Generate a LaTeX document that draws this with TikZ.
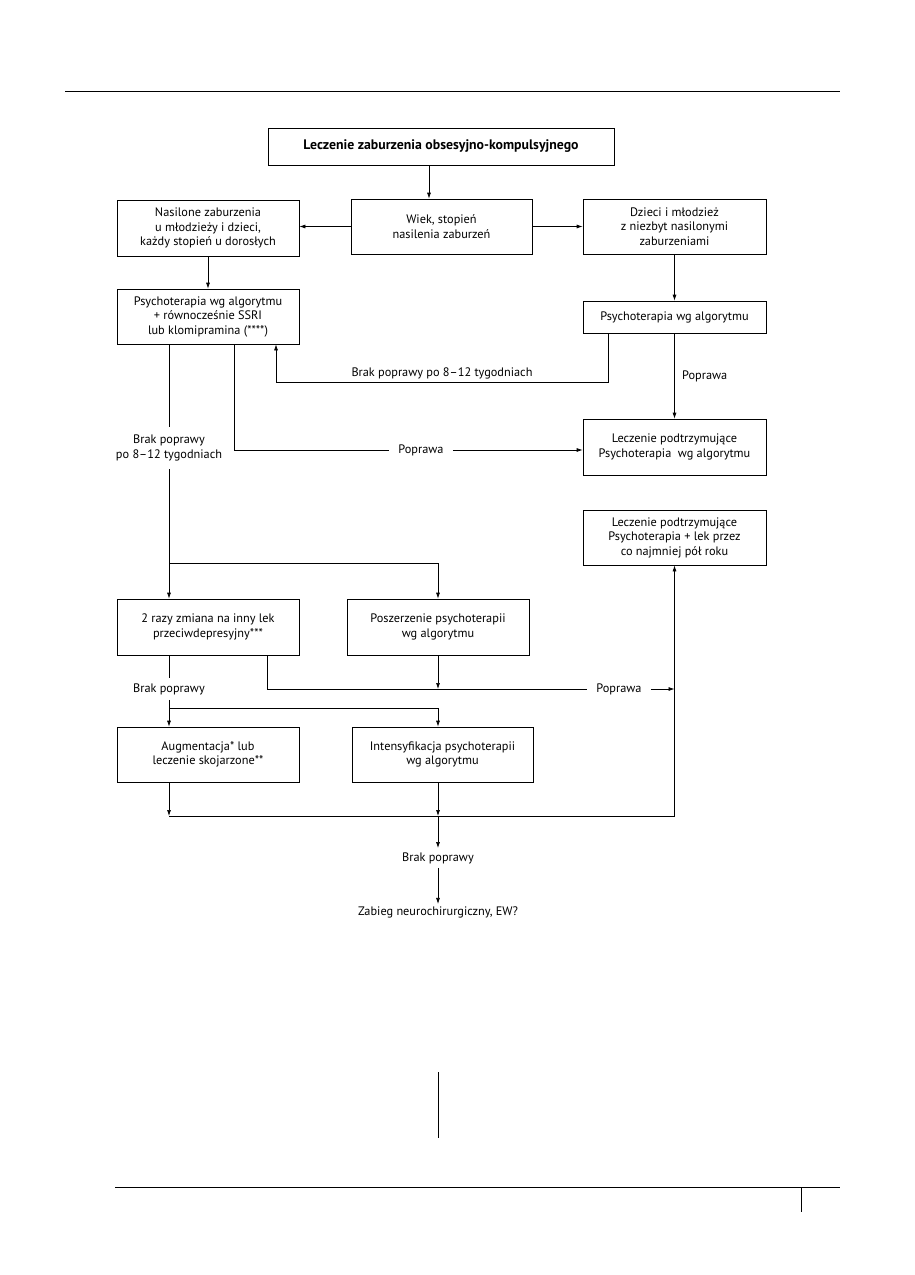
\documentclass[tikz,border=0pt]{standalone}
\usepackage{fontspec}
\setmainfont{PT Sans}
\usetikzlibrary{arrows.meta}
\begin{document}
\begin{tikzpicture}[x=1pt,y=-1pt,
  every path/.style={line width=.7pt},
  box/.style={draw,align=center,minimum width=182,minimum height=55,inner sep=2pt},
  txt/.style={align=center,inner sep=3pt},
  arr/.style={-{Latex[length=6pt,width=4pt]}},
  font=\fontsize{12.3}{14.5}\selectfont]
\useasboundingbox (0,0) rectangle (914,1275);
\draw (65,91) -- (840,91);
\draw (115,1187) -- (840,1187);
\draw (801,1187) -- (801,1212);
\draw (438,1072) -- (438,1138);

\node[box,minimum width=346,minimum height=37,font=\fontsize{13.8}{16}\selectfont\bfseries] (title) at (441,146.5) {Leczenie zaburzenia obsesyjno-kompulsyjnego};
\node[box,minimum width=181] (wiek) at (441.5,226.5) {Wiek, stopień\\nasilenia zaburzeń};
\node[box,minimum height=56] (nasil) at (208,228) {Nasilone zaburzenia\\u młodzieży i dzieci,\\każdy stopień u dorosłych};
\node[box,minimum width=183] (dzieci) at (674.5,226.5) {Dzieci i młodzież\\z niezbyt nasilonymi\\zaburzeniami};
\node[box] (psyA) at (208,316.5) {Psychoterapia wg algorytmu\\+ równocześnie SSRI\\lub klomipramina (****)};
\node[box,minimum width=183,minimum height=32] (psyB) at (674.5,317) {Psychoterapia wg algorytmu};
\node[box,minimum width=183,minimum height=56] (podtrzA) at (674.5,447) {Leczenie podtrzymujące\\Psychoterapia\ \ wg algorytmu};
\node[box,minimum width=183] (podtrzB) at (674.5,537.5) {Leczenie podtrzymujące\\Psychoterapia + lek przez\\co najmniej pół roku};
\node[box,minimum height=56] (zmiana) at (208,627) {2 razy zmiana na inny lek\\przeciwdepresyjny***};
\node[box,minimum height=56] (poszerz) at (438,627) {Poszerzenie psychoterapii\\wg algorytmu};
\node[box] (augm) at (208,754.5) {Augmentacja* lub\\leczenie skojarzone**};
\node[box,minimum width=181] (intens) at (442.5,754.5) {Intensyfikacja psychoterapii\\wg algorytmu};

\node[txt,inner sep=8pt] (brak1) at (169,448) {Brak poprawy\\po 8–12 tygodniach};
\node[txt,inner sep=5pt] (brak2) at (169,689) {Brak poprawy};
\node[txt,inner sep=4pt] (brak3) at (438,858) {Brak poprawy};
\node[txt,inner sep=2pt] (zabieg) at (438,912) {Zabieg neurochirurgiczny, EW?};
\node[txt,inner sep=9pt] (pop1) at (421,450) {Poprawa};
\node[txt,inner sep=9pt] (pop3) at (619,689) {Poprawa};
\coordinate (split1) at (169,563);
\coordinate (split2) at (169,708);
\coordinate (low) at (169,816);

\draw[arr] ([xshift=-12pt]title.south) -- ([xshift=-12.5pt]wiek.north);
\draw[arr] (wiek.west) -- (wiek.west -| nasil.east);
\draw[arr] (wiek.east) -- (wiek.east -| dzieci.west);
\draw[arr] (nasil) -- (psyA);
\draw[arr] (dzieci) -- (psyB);
\draw[arr] ([xshift=-66.5pt]psyB.south) -- ++(0,49) -| ([xshift=68pt]psyA.south) node[pos=.25,above] (brakB) {Brak poprawy po 8–12 tygodniach};
\draw[arr] (psyB) -- (podtrzA) node[midway,right=4pt] (popB) {Poprawa};
\draw ([xshift=26pt]psyA.south) |- (pop1);
\draw[arr] (pop1) -- (pop1 -| podtrzA.west);

\draw ([xshift=-39pt]psyA.south) -- (brak1);
\draw[arr] (brak1) -- (brak1 |- zmiana.north);
\draw[arr] (split1) -| (poszerz.north);

\draw ([xshift=-39pt]zmiana.south) -- (brak2);
\draw[arr] (brak2) -- (brak2 |- augm.north);
\draw[arr] (split2) -| ([xshift=-4.5pt]intens.north);
\draw ([xshift=59pt]zmiana.south) |- (pop3);
\draw[arr] (pop3) -- (pop3 -| podtrzB.south);
\draw[arr] (poszerz.south) -- (poszerz.south |- pop3);

\draw[arr] ([xshift=-39pt]augm.south) -- (low);
\draw[arr] (low) -| (podtrzB.south);
\draw[arr] ([xshift=-4.5pt]intens.south) -- (low -| poszerz.south);
\draw[arr] (low -| poszerz.south) -- (brak3);
\draw[arr] (brak3) -- (zabieg);
\end{tikzpicture}
\end{document}
